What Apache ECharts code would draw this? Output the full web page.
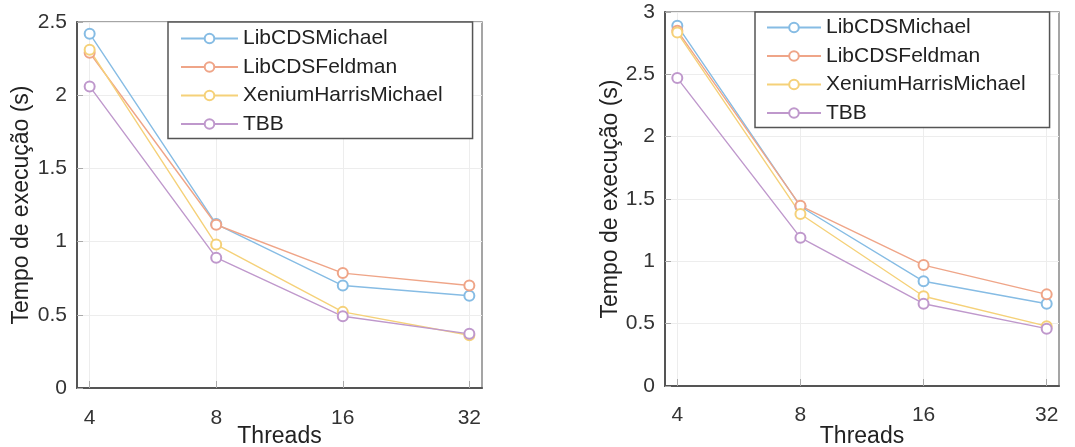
<!DOCTYPE html>
<html>
<head>
<meta charset="utf-8">
<script src="https://cdn.jsdelivr.net/npm/echarts@6/dist/echarts.min.js"></script>
<style>
  html, body { margin: 0; padding: 0; background: #fff; }
  #chart { width: 1075px; height: 447px; }
</style>
</head>
<body>
<div id="chart"></div>
<script>
// threads (x positions are equally spaced, index 0..3)
var threads = ['4', '8', '16', '32'];
var seriesNames = ['LibCDSMichael', 'LibCDSFeldman', 'XeniumHarrisMichael', 'TBB'];
var colors = ['#86bce4', '#efa588', '#f5d179', '#bf98cc'];

// left chart (s)
var leftMichael = [2.42, 1.12, 0.70, 0.63];
var leftFeldman = [2.29, 1.115, 0.785, 0.70];
var leftXenium = [2.31, 0.98, 0.52, 0.36];
var leftTBB = [2.06, 0.89, 0.49, 0.37];

// right chart (s)
var rightMichael = [2.89, 1.44, 0.84, 0.66];
var rightFeldman = [2.85, 1.445, 0.97, 0.735];
var rightXenium = [2.835, 1.38, 0.72, 0.48];
var rightTBB = [2.47, 1.19, 0.66, 0.46];

var leftData = [leftMichael, leftFeldman, leftXenium, leftTBB];
var rightData = [rightMichael, rightFeldman, rightXenium, rightTBB];
var idx = [0, 1, 2, 3];

var myChart = echarts.init(document.getElementById('chart'));

function pairs(vals) {
  return vals.map(function (v, i) { return [idx[i], v]; });
}

function xAxisFor(gridIndex, margin, nameGap) {
  return {
    type: 'value',
    gridIndex: gridIndex,
    min: -0.1,
    max: 3.1,
    name: 'Threads',
    nameLocation: 'middle',
    nameGap: nameGap,
    nameMoveOverlap: false,
    nameTextStyle: { fontSize: 23, color: '#222', fontFamily: 'Liberation Sans' },
    axisLine: { show: true, onZero: false, lineStyle: { color: '#555', width: 2 } },
    axisTick: { show: true, inside: true, length: 7, lineStyle: { color: '#aaa' }, customValues: idx },
    axisLabel: {
      margin: margin,
      fontSize: 21,
      color: '#333',
      fontFamily: 'Liberation Sans',
      customValues: idx,
      formatter: function (v) { return threads[Math.round(v)]; }
    },
    splitLine: { show: true, lineStyle: { color: '#ededed' } }
  };
}

function yAxisFor(gridIndex, max, nameGap) {
  return {
    type: 'value',
    gridIndex: gridIndex,
    min: 0,
    max: max,
    interval: 0.5,
    name: 'Tempo de execução (s)',
    nameLocation: 'middle',
    nameGap: nameGap,
    nameRotate: 90,
    nameTextStyle: { fontSize: 23, color: '#222', fontFamily: 'Liberation Sans' },
    axisLine: { show: true, onZero: false, lineStyle: { color: '#555', width: 2 } },
    axisTick: { show: true, inside: true, length: 6, lineStyle: { color: '#aaa' } },
    axisLabel: { margin: 10, fontSize: 21, color: '#333', fontFamily: 'Liberation Sans' },
    splitLine: { show: true, lineStyle: { color: '#ededed' } }
  };
}

function legendFor(left, top, pad, itemWidth) {
  return {
    orient: 'vertical',
    left: left,
    top: top,
    data: seriesNames,
    backgroundColor: '#fff',
    borderColor: '#555',
    borderWidth: 1.5,
    borderRadius: 0,
    padding: pad,
    itemWidth: itemWidth,
    itemHeight: 12,
    itemGap: 7.5,
    textStyle: { fontSize: 21, color: '#222', fontFamily: 'Liberation Sans' },
    selectedMode: false
  };
}

var series = [];
seriesNames.forEach(function (name, i) {
  [leftData, rightData].forEach(function (set, g) {
    series.push({
      name: name,
      type: 'line',
      xAxisIndex: g,
      yAxisIndex: g,
      data: pairs(set[i]),
      symbol: 'emptyCircle',
      symbolSize: 10,
      color: colors[i],
      lineStyle: { width: 1.4, color: colors[i] },
      itemStyle: { color: colors[i], borderWidth: 1.4 },
      animation: false
    });
  });
});

var option = {
  backgroundColor: '#fff',
  grid: [
    { left: 77, top: 22, width: 405, height: 366, show: true, borderColor: '#888', borderWidth: 1.5, outerBoundsMode: 'none', containLabel: false },
    { left: 665, top: 12, width: 394, height: 374, show: true, borderColor: '#888', borderWidth: 1.5, outerBoundsMode: 'none', containLabel: false }
  ],
  legend: [
    legendFor(168, 22, [6, 30, 4, 12], 57),
    legendFor(755, 12, [5, 24, 4, 11], 54)
  ],
  xAxis: [xAxisFor(0, 20, 37), xAxisFor(1, 19, 39)],
  yAxis: [yAxisFor(0, 2.5, 44), yAxisFor(1, 3, 33)],
  series: series
};

myChart.setOption(option);
</script>
</body>
</html>
